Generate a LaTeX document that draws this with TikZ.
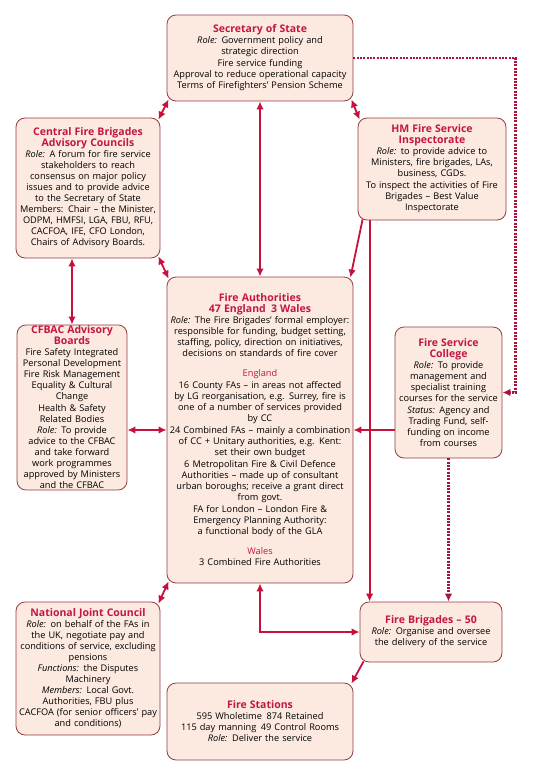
\documentclass[tikz,border=0pt]{standalone}
\usepackage{fontspec}
\setmainfont{Open Sans}
\usetikzlibrary{arrows.meta}
\definecolor{boxfill}{RGB}{252,233,224}
\definecolor{boxline}{RGB}{150,60,70}
\definecolor{titlec}{RGB}{196,22,66}
\definecolor{arrowc}{RGB}{200,16,60}
\definecolor{dotc}{RGB}{170,20,60}
\newcommand{\titlefont}{\fontsize{10.5}{11}\selectfont\bfseries\color{titlec}}
\tikzset{
  box/.style={draw=boxline, line width=0.8pt, fill=boxfill, rounded corners=9pt,
    align=center, inner sep=1pt, font=\fontsize{9.2}{11}\selectfont},
  tipa/.tip={Latex[length=8pt,width=7.5pt]},
  link/.style={draw=arrowc, line width=1.8pt, -tipa},
  dlink/.style={draw=arrowc, line width=1.8pt, tipa-tipa},
  dotlink/.style={draw=dotc, line width=2.2pt, dash pattern=on 2pt off 1.3pt, -tipa}
}
\begin{document}
\begin{tikzpicture}[x=1pt,y=-1pt]
\fill[white] (0,0) rectangle (540,771);
\useasboundingbox (0,0) rectangle (540,771);

\node[box, minimum width=186pt, minimum height=86pt, text width=184pt] (sos) at (260,58)
 {{\titlefont Secretary of State}\\
  \textit{Role:} Government policy and\\strategic direction\\[1pt]
  Fire service funding\\
  Approval to reduce operational capacity\\
  Terms of Firefighters' Pension Scheme};

\node[box, minimum width=144pt, minimum height=140pt, text width=142pt] (cfbac) at (88,188)
 {{\titlefont Central Fire Brigades\\Advisory Councils}\\
  \textit{Role:} A forum for fire service\\stakeholders to reach\\consensus on major policy\\issues and to provide advice\\to the Secretary of State\\
  Members: Chair -- the Minister,\\ODPM, HMFSI, LGA, FBU, RFU,\\CACFOA, IFE, CFO London,\\Chairs of Advisory Boards.};

\node[box, minimum width=148pt, minimum height=102pt, text width=146pt] (hmfsi) at (432,169)
 {{\titlefont HM Fire Service\\Inspectorate}\\
  \textit{Role:} to provide advice to\\Ministers, fire brigades, LAs,\\business, CGDs.\\[1pt]
  To inspect the activities of Fire\\Brigades -- Best Value\\Inspectorate};

\node[box, minimum width=186pt, minimum height=306pt, text width=184pt] (fa) at (260,430)
 {{\titlefont Fire Authorities\\47 England\enspace 3 Wales}\\
  \textit{Role:} The Fire Brigades' formal employer:\\responsible for funding, budget setting,\\staffing, policy, direction on initiatives,\\decisions on standards of fire cover\\[9pt]
  {\color{titlec}England}\\[1pt]
  16 County FAs -- in areas not affected\\by LG reorganisation, e.g. Surrey, fire is\\one of a number of services provided\\by CC\\[1pt]
  24 Combined FAs -- mainly a combination\\of CC + Unitary authorities, e.g. Kent:\\set their own budget\\[1pt]
  6 Metropolitan Fire \& Civil Defence\\Authorities -- made up of consultant\\urban boroughs; receive a grant direct\\from govt.\\[1pt]
  FA for London -- London Fire \&\\Emergency Planning Authority:\\a functional body of the GLA\\[9pt]
  {\color{titlec}Wales}\\
  3 Combined Fire Authorities};

\node[box, minimum width=110pt, minimum height=165pt, text width=108pt] (boards) at (72,407.5)
 {{\titlefont CFBAC Advisory\\Boards}\\
  Fire Safety Integrated\\Personal Development\\Fire Risk Management\\Equality \& Cultural\\Change\\[1pt]
  Health \& Safety\\Related Bodies\\
  \textit{Role:} To provide\\advice to the CFBAC\\and take forward\\work programmes\\approved by Ministers\\and the CFBAC};

\node[box, minimum width=107pt, minimum height=131pt, text width=105pt] (fsc) at (448.5,392.5)
 {{\titlefont Fire Service\\College}\\
  \textit{Role:} To provide\\management and\\specialist training\\courses for the service\\[1pt]
  \textit{Status:} Agency and\\Trading Fund, self-\\funding on income\\from courses};

\node[box, minimum width=144pt, minimum height=133pt, text width=142pt] (njc) at (88,668.5)
 {{\titlefont National Joint Council}\\
  \textit{Role:} on behalf of the FAs in\\the UK, negotiate pay and\\conditions of service, excluding\\pensions\\
  \textit{Functions:} the Disputes\\Machinery\\
  \textit{Members:} Local Govt.\\Authorities, FBU plus\\CACFOA (for senior officers' pay\\and conditions)};

\node[box, minimum width=142pt, minimum height=60pt, text width=140pt] (fb) at (431,632)
 {{\titlefont Fire Brigades -- 50}\\
  \textit{Role:} Organise and oversee\\the delivery of the service};

\node[box, minimum width=186pt, minimum height=77pt, text width=184pt] (fs) at (260,721.5)
 {{\titlefont Fire Stations}\\
  595 Wholetime\enspace 874 Retained\\
  115 day manning\enspace 49 Control Rooms\\
  \textit{Role:} Deliver the service};

% connectors
\draw[dlink] ([shift={(2pt,2pt)}]sos.south west) -- ([shift={(-2pt,-2pt)}]cfbac.north east);
\draw[dlink] (sos.south) -- (fa.north);
\draw[dlink] ([shift={(-2pt,2pt)}]sos.south east) -- ([shift={(2pt,-2pt)}]hmfsi.north west);
\draw[dlink] (boards.north) -- (boards.north |- cfbac.south);
\draw[dlink] ([shift={(-2pt,2pt)}]cfbac.south east) -- ([shift={(2pt,-2pt)}]fa.north west);
\draw[link] ([shift={(5pt,1pt)}]hmfsi.south west) -- ([shift={(-3pt,-1pt)}]fa.north east);
\draw[link] ([xshift=12pt]hmfsi.south west) -- ([xshift=12pt]hmfsi.south west |- fb.north);
\draw[dlink] (fa.west) -- (fa.west -| boards.east);
\draw[link] (fsc.west |- fa.east) -- (fa.east);
\draw[dotlink] (sos.east) -- ++(162,0) |- (fsc.east);
\draw[dotlink] (fsc.south) -- (fsc.south |- fb.north);
\draw[dlink] ([shift={(2pt,2pt)}]fa.south west) -- ([shift={(-2pt,-2pt)}]njc.north east);
\draw[dlink] (fa.south) |- (fb.west);
\draw[link] ([shift={(4pt,1pt)}]fb.south west) -- ([shift={(-2pt,-1pt)}]fs.north east);
\end{tikzpicture}
\end{document}
